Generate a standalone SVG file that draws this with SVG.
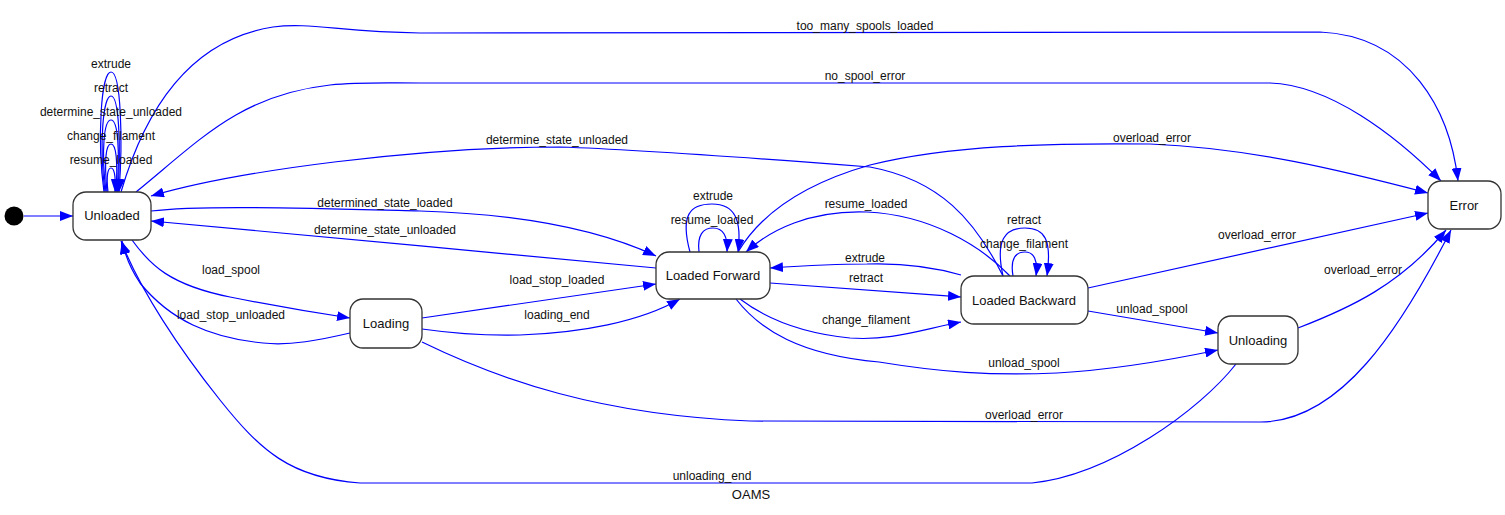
<svg xmlns="http://www.w3.org/2000/svg" width="1505" height="515" viewBox="0 0 1505 515">
<style>
.node rect{fill:#fff;stroke:#333;stroke-width:1.3}
.nl{font-family:"Liberation Sans",Arial,sans-serif;font-size:13px;fill:#111;text-anchor:middle}
.el{font-family:"Liberation Sans",Arial,sans-serif;font-size:12px;fill:#111;text-anchor:middle}
#edges path{fill:none;stroke:#0000ff;stroke-width:1.2;marker-end:url(#arr)}
</style>
<defs>
<marker id="arr" markerUnits="userSpaceOnUse" markerWidth="13" markerHeight="10" refX="13" refY="5" orient="auto">
<path d="M0,0 L13,5 L0,10 Z" fill="#0000ff"/>
</marker>
</defs>
<rect width="1505" height="515" fill="#fff"/>
<g id="edges">
<path d="M24,216 L73,216"/>
<path d="M104,192 C97,140 101,72 111,72 C121,72 123,140 119,192"/>
<path d="M105,192 C99,145 103,96 111,96 C119,96 121,145 118,192"/>
<path d="M106,192 C101,150 104,120 111,120 C118,120 120,150 117,192"/>
<path d="M107,192 C104,160 106,144 111,144 C116,144 118,160 116,192"/>
<path d="M108,192 C106,175 108,168 111,168 C114,168 116,175 115,192"/>
<path d="M121,192 C145,110 190,40 273,27 C310,22 340,32 420,33 L1320,32 C1410,36 1450,110 1458,181"/>
<path d="M136,192 C200,140 240,95 330,85 C360,82 380,83 420,83 L1270,83 C1330,85 1395,135 1441,181"/>
<path d="M1003,276 C975,220 940,180 870,167 C780,160 650,150 560,147 C420,147 240,170 151,196"/>
<path d="M738,252 C760,215 800,185 870,165 C950,145 1050,143 1150,144 C1250,148 1340,170 1428,193"/>
<path d="M151,211 C200,205 300,208 420,211 C520,214 600,230 656,256"/>
<path d="M656,268 C500,252 300,236 151,221"/>
<path d="M1010,276 C980,245 930,215 867,212 C810,210 770,230 746,252"/>
<path d="M690,252 C680,215 690,204 712,204 C735,204 742,220 738,252"/>
<path d="M699,252 C697,235 703,228 713,228 C723,228 728,236 727,252"/>
<path d="M1003,276 C995,240 1005,228 1025,228 C1045,228 1052,240 1047,276"/>
<path d="M1013,276 C1010,258 1016,252 1025,252 C1034,252 1038,260 1036,276"/>
<path d="M1088,288 L1428,213"/>
<path d="M961,275 C930,266 900,263 867,264 C830,264 800,266 770,268"/>
<path d="M770,283 C840,288 900,292 961,297"/>
<path d="M740,299 C765,318 800,333 850,338 C890,341 920,330 961,322"/>
<path d="M1088,311 L1218,333"/>
<path d="M736,299 C760,330 800,355 879,362 C940,372 990,376 1057,373 C1110,370 1170,360 1218,350"/>
<path d="M1298,328 C1350,308 1400,285 1446,230"/>
<path d="M422,342 C500,380 600,415 750,421 L1260,422 C1340,422 1400,330 1451,230"/>
<path d="M1236,364 C1200,410 1110,475 1032,483 L360,483 C290,478 260,450 220,400 C180,350 140,290 121,241"/>
<path d="M132,240 C150,265 170,285 230,297 C270,305 310,312 350,318"/>
<path d="M350,333 C320,340 290,346 263,343 C210,338 170,320 140,283 C130,268 125,255 122,241"/>
<path d="M422,318 L656,284"/>
<path d="M422,329 C450,333 480,336 520,335 C580,333 640,322 680,299"/>
</g>
<g id="init"><circle cx="14" cy="216" r="9.5" fill="#000"/></g>
<g id="unloaded" class="node"><rect x="73" y="192" width="78" height="48" rx="13"/><text class="nl" x="112" y="220">Unloaded</text></g>
<g id="loading" class="node"><rect x="350" y="299" width="72" height="49" rx="13"/><text class="nl" x="386" y="328">Loading</text></g>
<g id="loaded_forward" class="node"><rect x="656" y="252" width="114" height="47" rx="13"/><text class="nl" x="713" y="280">Loaded Forward</text></g>
<g id="loaded_backward" class="node"><rect x="961" y="276" width="127" height="48" rx="13"/><text class="nl" x="1024" y="305">Loaded Backward</text></g>
<g id="unloading" class="node"><rect x="1218" y="316" width="80" height="48" rx="13"/><text class="nl" x="1258" y="345">Unloading</text></g>
<g id="error" class="node"><rect x="1428" y="181" width="73" height="48" rx="13"/><text class="nl" x="1464" y="210">Error</text></g>
<g id="labels">
<text class="el" x="111" y="68">extrude</text>
<text class="el" x="111" y="92">retract</text>
<text class="el" x="111" y="116">determine_state_unloaded</text>
<text class="el" x="111" y="140">change_filament</text>
<text class="el" x="111" y="164">resume_loaded</text>
<text class="el" x="865" y="30">too_many_spools_loaded</text>
<text class="el" x="865" y="80">no_spool_error</text>
<text class="el" x="557" y="144">determine_state_unloaded</text>
<text class="el" x="1152" y="142">overload_error</text>
<text class="el" x="385" y="207">determined_state_loaded</text>
<text class="el" x="385" y="234">determine_state_unloaded</text>
<text class="el" x="713" y="200">extrude</text>
<text class="el" x="712" y="224">resume_loaded</text>
<text class="el" x="866" y="208">resume_loaded</text>
<text class="el" x="1024" y="224">retract</text>
<text class="el" x="1024" y="248">change_filament</text>
<text class="el" x="1257" y="239">overload_error</text>
<text class="el" x="865" y="262">extrude</text>
<text class="el" x="866" y="282">retract</text>
<text class="el" x="866" y="324">change_filament</text>
<text class="el" x="1152" y="313">unload_spool</text>
<text class="el" x="1024" y="367">unload_spool</text>
<text class="el" x="1363" y="274">overload_error</text>
<text class="el" x="1024" y="419">overload_error</text>
<text class="el" x="712" y="480">unloading_end</text>
<text class="el" x="231" y="274">load_spool</text>
<text class="el" x="231" y="319">load_stop_unloaded</text>
<text class="el" x="557" y="284">load_stop_loaded</text>
<text class="el" x="557" y="319">loading_end</text>
<text class="nl" x="751" y="499">OAMS</text>
</g>
</svg>
